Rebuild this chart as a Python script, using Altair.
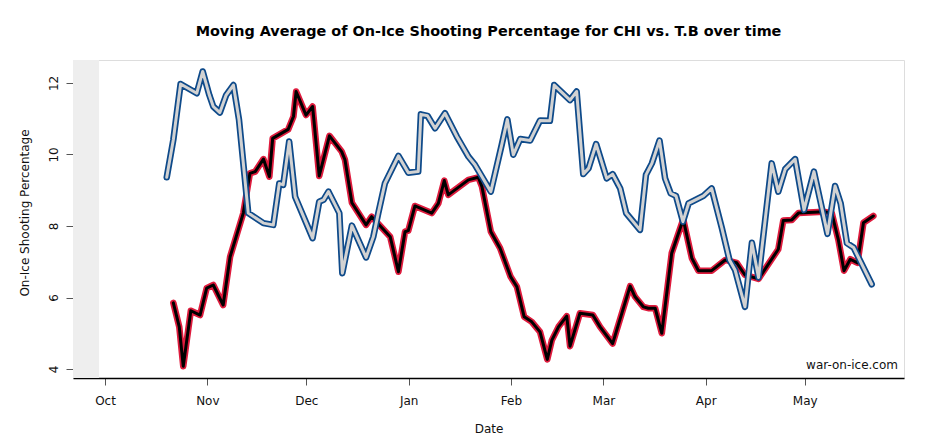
import altair as alt
import pandas as pd

# ---- data (days since 2013-10-01, moving-average on-ice shooting %) ----
tb_days = [18.7, 20.7, 22.9, 27.8, 29.6, 31.6, 32.8, 34.8, 36.7, 38.9,
           40.6, 43.4, 48.0, 51.0, 52.8, 54.0, 55.8, 57.6, 62.9, 64.9,
           66.2, 67.7, 71.0, 71.9, 74.8, 79.1, 81.3, 82.8, 84.8, 88.9,
           91.9, 94.9, 95.7, 97.7, 100.0, 103.0, 106.6, 110.1, 112.1, 116.9,
           120.2, 121.9, 123.7, 125.8, 128.8, 131.8, 134.8, 136.1, 140.9, 142.9,
           144.9, 146.5, 148.8, 152.0, 153.8, 156.1, 157.9, 162.1, 163.9, 165.7,
           168.0, 169.7, 171.4, 173.0, 175.1, 176.8, 181.3, 183.8, 186.9, 189.2,
           190.9, 193.9, 196.0, 198.0, 202.0, 204.0, 206.1, 209.1, 211.8, 214.8,
           218.9, 221.2, 222.9, 224.8, 226.8, 232.3]
tb_vals = [9.36, 10.41, 11.97, 11.71, 12.32, 11.66, 11.34, 11.17, 11.66, 11.94,
           10.97, 8.36, 8.08, 8.03, 9.19, 9.15, 10.36, 8.82, 7.66, 8.68,
           8.73, 8.96, 8.36, 6.68, 8.01, 7.12, 7.70, 8.36, 9.19, 9.96,
           9.49, 9.52, 11.12, 11.08, 10.73, 11.15, 10.50, 9.94, 9.71, 8.96,
           10.27, 10.98, 9.99, 10.43, 10.39, 10.95, 10.94, 11.94, 11.52, 11.76,
           9.45, 9.61, 10.29, 9.33, 9.45, 9.05, 8.36, 7.89, 9.43, 9.75,
           10.39, 9.33, 8.91, 8.84, 8.12, 8.63, 8.84, 9.05, 7.94, 7.05,
           6.77, 5.74, 7.53, 6.56, 9.75, 8.96, 9.59, 9.87, 8.45, 9.52,
           7.78, 9.12, 8.63, 7.52, 7.40, 6.37]

chi_days = [20.7, 22.5, 23.7, 26.0, 28.8, 30.8, 32.8, 35.8, 37.9, 41.9,
            43.9, 45.5, 48.0, 49.8, 50.8, 55.5, 57.1, 57.9, 60.9, 62.9,
            64.9, 68.0, 71.7, 72.7, 74.8, 79.1, 80.8, 86.4, 88.9, 90.9,
            91.9, 93.9, 99.0, 101.0, 102.8, 104.0, 110.1, 113.1, 114.2, 116.9,
            119.7, 122.9, 124.8, 127.0, 129.3, 131.8, 134.0, 135.4, 137.4, 139.9,
            140.9, 143.9, 147.8, 150.0, 153.8, 159.1, 160.6, 163.1, 164.6, 166.7,
            168.7, 171.7, 175.2, 177.8, 179.8, 183.8, 187.9, 191.4, 193.9, 198.0,
            204.0, 205.5, 208.1, 210.1, 217.7, 220.2, 222.2, 223.9, 225.8, 228.0,
            229.8, 232.8]
chi_vals = [5.85, 5.18, 4.08, 5.63, 5.51, 6.26, 6.35, 5.79, 7.14, 8.36,
            9.47, 9.52, 9.87, 9.38, 10.45, 10.70, 11.06, 11.76, 11.10, 11.34,
            9.40, 10.52, 10.08, 9.85, 8.65, 8.03, 8.26, 7.70, 6.72, 7.84,
            7.87, 8.56, 8.36, 8.63, 9.27, 8.87, 9.29, 9.36, 9.10, 7.84,
            7.38, 6.58, 6.30, 5.46, 5.32, 5.04, 4.27, 4.81, 5.18, 5.48,
            4.64, 5.56, 5.51, 5.18, 4.71, 6.32, 6.02, 5.74, 5.70, 5.70,
            5.00, 7.24, 8.19, 7.10, 6.75, 6.75, 7.05, 6.97, 6.63, 6.52,
            7.35, 8.15, 8.17, 8.36, 8.40, 8.36, 7.61, 6.75, 7.07, 6.97,
            8.09, 8.28]

band_start = ["2013-09-21T07:12:00"]
band_end = ["2013-09-29T04:48:00"]
y_min, y_max = 3.75, 12.64

month_ticks = [(2013, 10), (2013, 11), (2013, 12), (2014, 1),
               (2014, 2), (2014, 3), (2014, 4), (2014, 5)]

base = pd.Timestamp("2013-10-01")
tb = pd.DataFrame({"Date": base + pd.to_timedelta(tb_days, unit="D"), "pct": tb_vals})
chi = pd.DataFrame({"Date": base + pd.to_timedelta(chi_days, unit="D"), "pct": chi_vals})
band = pd.DataFrame({"start": band_start, "end": band_end, "lo": [y_min], "hi": [y_max]})

FONT = "DejaVu Sans"

x_scale = alt.Scale(domain=[alt.DateTime(year=2013, month=9, date=21, hours=7, minutes=12),
                            alt.DateTime(year=2014, month=5, date=31, hours=2)])
y_scale = alt.Scale(domain=[y_min, y_max], nice=False, zero=False)

x_axis = alt.Axis(
    title="Date", values=[alt.DateTime(year=y, month=m, date=1) for y, m in month_ticks],
    format="%b", labelFont=FONT, labelFontSize=12, labelColor="#111111",
    labelBaseline="middle", labelPadding=15, tickSize=7, tickColor="#555555",
    domainColor="black", domainWidth=1.3, grid=False,
    titleFont=FONT, titleFontSize=12, titleFontWeight="normal", titleColor="#111111",
    titleX=415.5, titleY=50, titleBaseline="middle", titleAlign="center")

y_axis = alt.Axis(
    title="On-Ice Shooting Percentage", values=[4, 6, 8, 10, 12],
    labelFont=FONT, labelFontSize=12, labelColor="#111111", labelAngle=270,
    labelAlign="center", labelBaseline="middle", labelPadding=13,
    tickSize=7, tickColor="#555555", domain=False, grid=False,
    titleFont=FONT, titleFontSize=12, titleFontWeight="normal", titleColor="#111111",
    titleAngle=270, titleX=-49, titleY=152.5, titleAlign="center", titleBaseline="middle")

band_layer = alt.Chart(band).mark_rect(color="#EEEEEE").encode(
    x=alt.X("start:T", scale=x_scale, axis=x_axis),
    x2="end:T",
    y=alt.Y("lo:Q", scale=y_scale, axis=y_axis),
    y2="hi:Q")


def line(df, color, width):
    return alt.Chart(df).mark_line(color=color, strokeWidth=width,
                                   strokeJoin="round", strokeCap="round").encode(
        x=alt.X("Date:T", scale=x_scale, axis=x_axis),
        y=alt.Y("pct:Q", scale=y_scale, axis=y_axis))


chi_outer = line(chi, "#DE1B3D", 6.5)
chi_inner = line(chi, "#000000", 3)
tb_outer = line(tb, "#0E4A8A", 6.5)
tb_inner = line(tb, "#D2D2D2", 3)

watermark = alt.Chart(band).mark_text(
    text="war-on-ice.com", font=FONT, fontSize=12, align="right",
    baseline="middle", color="#111111").encode(
    x=alt.value(825), y=alt.value(305))

chart = alt.layer(band_layer, chi_outer, chi_inner, tb_outer, tb_inner, watermark).properties(
    width=831, height=318,
    title=alt.TitleParams(
        text="Moving Average of On-Ice Shooting Percentage for CHI vs. T.B over time",
        font=FONT, fontSize=14.4, fontWeight="bold", color="black",
        anchor="middle", offset=21),
    autosize=alt.AutoSizeParams(type="none"),
    padding={"left": 65, "top": 52, "right": 19, "bottom": 60},
).configure_view(stroke="#8C8C8C", strokeWidth=1.5).configure(background="white")

chart.save("out.html", embed_options={"renderer": "svg", "actions": False})
